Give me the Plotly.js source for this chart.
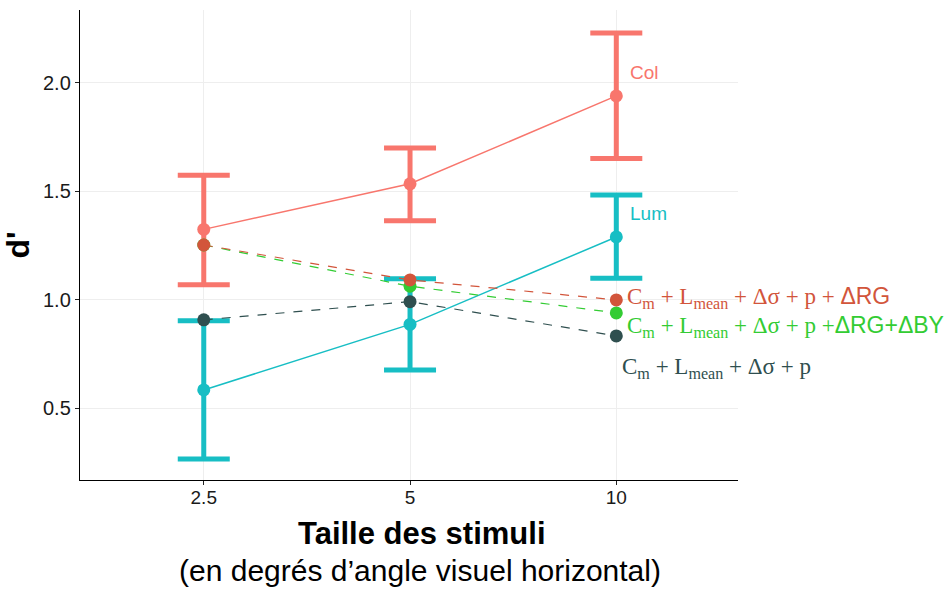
<!DOCTYPE html>
<html>
<head>
<meta charset="utf-8">
<script src="https://cdn.plot.ly/plotly-3.0.1.min.js"></script>
<style>html,body{margin:0;padding:0;background:#fff;}#chart{width:944px;height:589px;}</style>
</head>
<body>
<div id="chart"></div>
<script>
// ---- data ----
const sizes = ['2.5', '5', '10'];
const colMean  = [1.325, 1.535, 1.94];
const colUpper = [1.575, 1.70, 2.23];
const colLower = [1.07, 1.365, 1.652];
const lumMean  = [0.585, 0.887, 1.29];
const lumUpper = [0.904, 1.098, 1.484];
const lumLower = [0.267, 0.677, 1.10];
const modelRG    = [1.253, 1.092, 1.0];
const modelRGBY  = [1.253, 1.063, 0.94];
const modelBase  = [0.908, 0.992, 0.834];

const cCol = '#F8766D', cLum = '#17BEC4', cRG = '#D2553B', cRGBY = '#33CC33', cBase = '#2F4F4F';

function errs(mean, up, lo) {
  return {
    type: 'data', symmetric: false,
    array: mean.map((m, i) => up[i] - m),
    arrayminus: mean.map((m, i) => m - lo[i]),
    thickness: 5, width: 26
  };
}

const traces = [
  {x: sizes, y: colMean, type: 'scatter', mode: 'lines+markers',
   line: {color: cCol, width: 1.5}, marker: {color: cCol, size: 13},
   error_y: Object.assign(errs(colMean, colUpper, colLower), {color: cCol})},
  {x: sizes, y: lumMean, type: 'scatter', mode: 'lines+markers',
   line: {color: cLum, width: 1.5}, marker: {color: cLum, size: 13},
   error_y: Object.assign(errs(lumMean, lumUpper, lumLower), {color: cLum})},
  {x: sizes, y: modelBase, type: 'scatter', mode: 'lines+markers',
   line: {color: cBase, width: 1.2, dash: 'dash'}, marker: {color: cBase, size: 13}},
  {x: sizes, y: modelRGBY, type: 'scatter', mode: 'lines+markers',
   line: {color: cRGBY, width: 1.2, dash: 'dash'}, marker: {color: cRGBY, size: 13}},
  {x: sizes, y: modelRG, type: 'scatter', mode: 'lines+markers',
   line: {color: cRG, width: 1.2, dash: 'dash'}, marker: {color: cRG, size: 13}}
];

const serif = 'Liberation Serif';
const sans = 'Liberation Sans';
const last = sizes.length - 1; // category index of the last size
function mathLbl(tail) {
  return 'C<sub>m</sub> + L<sub>mean</sub> + Δσ + p +' + tail;
}

const annotations = [
  {x: last, y: colMean[last], xref: 'x', yref: 'y', xanchor: 'left', yanchor: 'middle',
   xshift: 12, yshift: 23, text: 'Col', showarrow: false, font: {family: sans, size: 19, color: cCol}},
  {x: last, y: lumMean[last], xref: 'x', yref: 'y', xanchor: 'left', yanchor: 'middle',
   xshift: 12, yshift: 23, text: 'Lum', showarrow: false, font: {family: sans, size: 19, color: cLum}},
  {x: last, y: modelRG[last], xref: 'x', yref: 'y', xanchor: 'left', yanchor: 'middle',
   xshift: 9, yshift: 2, showarrow: false, font: {family: serif, size: 23, color: cRG},
   text: mathLbl(' <span style="font-family:Liberation Sans">ΔRG</span>')},
  {x: last, y: modelRGBY[last], xref: 'x', yref: 'y', xanchor: 'left', yanchor: 'middle',
   xshift: 9, yshift: -14, showarrow: false, font: {family: serif, size: 23, color: cRGBY},
   text: mathLbl('<span style="font-family:Liberation Sans">ΔRG+ΔBY</span>')},
  {x: last, y: modelBase[last], xref: 'x', yref: 'y', xanchor: 'left', yanchor: 'middle',
   xshift: 4, yshift: -32, showarrow: false, font: {family: serif, size: 23, color: cBase},
   text: 'C<sub>m</sub> + L<sub>mean</sub> + Δσ + p'},
  // x-axis title (two lines), centred slightly right of the middle category
  {x: 1, y: 0, xref: 'x', yref: 'paper', xanchor: 'center', yanchor: 'middle',
   xshift: 12, yshift: -53, showarrow: false,
   text: '<b>Taille des stimuli</b>', font: {family: sans, size: 31, color: '#000'}},
  {x: 1, y: 0, xref: 'x', yref: 'paper', xanchor: 'center', yanchor: 'middle',
   xshift: 10, yshift: -90, showarrow: false,
   text: '(en degrés d’angle visuel horizontal)', font: {family: sans, size: 30, color: '#000'}}
];

const layout = {
  width: 944, height: 589,
  margin: {l: 80, r: 206, t: 10, b: 109},
  paper_bgcolor: '#fff', plot_bgcolor: '#fff',
  showlegend: false,
  font: {family: sans, color: '#000'},
  xaxis: {
    type: 'category', range: [-0.6, 2.59],
    showline: true, linecolor: '#000', linewidth: 1.2,
    showgrid: true, gridcolor: '#EEEEEE', gridwidth: 1,
    ticks: 'outside', ticklen: 4, tickcolor: '#222', tickwidth: 1,
    ticklabelstandoff: -4,
    tickfont: {family: sans, size: 19, color: '#1a1a1a'},
    zeroline: false
  },
  yaxis: {
    range: [0.17, 2.336],
    tickvals: [0.5, 1.0, 1.5, 2.0], ticktext: ['0.5', '1.0', '1.5', '2.0'],
    showline: true, linecolor: '#000', linewidth: 1.2,
    showgrid: true, gridcolor: '#EEEEEE', gridwidth: 1,
    ticks: 'outside', ticklen: 4, tickcolor: '#222', tickwidth: 1,
    tickfont: {family: sans, size: 20, color: '#1a1a1a'},
    zeroline: false,
    title: {text: "<b>d'</b>", font: {family: sans, size: 32, color: '#000'}, standoff: 12}
  },
  annotations: annotations
};

Plotly.newPlot('chart', traces, layout, {displayModeBar: false, staticPlot: true});
</script>
</body>
</html>
